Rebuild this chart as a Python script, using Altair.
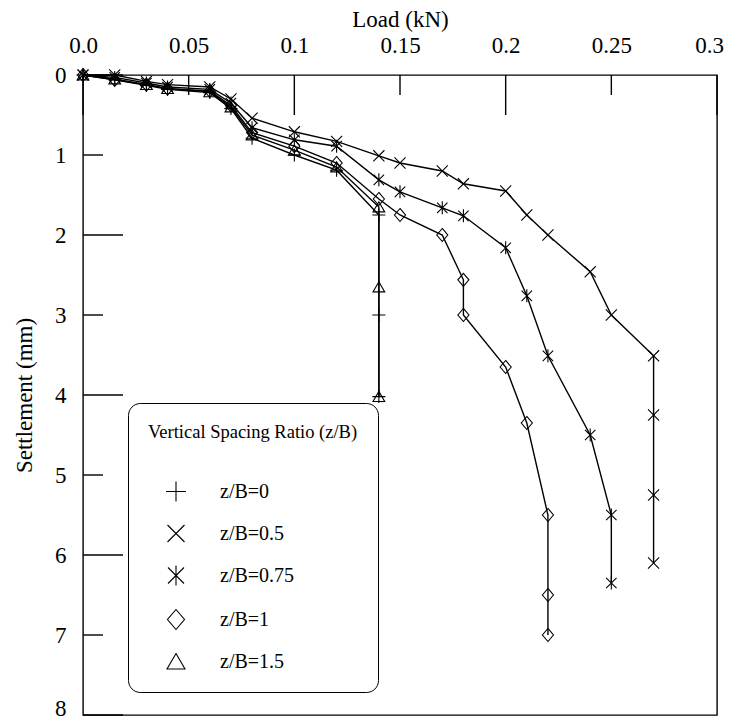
import altair as alt
import pandas as pd

FONT = "Liberation Serif"

series_names = ["z/B=0", "z/B=0.5", "z/B=0.75", "z/B=1", "z/B=1.5"]

load_zb0 = [0, 0.015, 0.03, 0.04, 0.06, 0.07, 0.08, 0.10, 0.12, 0.14, 0.14, 0.14]
sett_zb0 = [0, 0.06, 0.13, 0.18, 0.22, 0.42, 0.79, 1.00, 1.19, 1.75, 3.00, 4.02]

load_zb05 = [0, 0.015, 0.03, 0.04, 0.06, 0.07, 0.08, 0.10, 0.12, 0.14, 0.15, 0.17,
             0.18, 0.20, 0.21, 0.22, 0.24, 0.25, 0.27, 0.27, 0.27, 0.27]
sett_zb05 = [0, 0.00, 0.08, 0.12, 0.15, 0.30, 0.54, 0.71, 0.83, 1.01, 1.10, 1.20,
             1.36, 1.45, 1.75, 2.00, 2.46, 3.00, 3.51, 4.25, 5.25, 6.10]

load_zb075 = [0, 0.015, 0.03, 0.04, 0.06, 0.07, 0.08, 0.10, 0.12, 0.14, 0.15, 0.17,
              0.18, 0.20, 0.21, 0.22, 0.24, 0.25, 0.25]
sett_zb075 = [0, 0.03, 0.10, 0.15, 0.18, 0.35, 0.66, 0.81, 0.89, 1.31, 1.46, 1.66,
              1.76, 2.16, 2.76, 3.51, 4.50, 5.50, 6.35]

load_zb1 = [0, 0.015, 0.03, 0.04, 0.06, 0.07, 0.08, 0.10, 0.12, 0.14, 0.15, 0.17,
            0.18, 0.18, 0.20, 0.21, 0.22, 0.22, 0.22]
sett_zb1 = [0, 0.06, 0.12, 0.17, 0.20, 0.38, 0.72, 0.89, 1.10, 1.55, 1.75, 2.00,
            2.56, 3.00, 3.65, 4.35, 5.50, 6.50, 7.00]

load_zb15 = [0, 0.015, 0.03, 0.04, 0.06, 0.07, 0.08, 0.10, 0.12, 0.14, 0.14, 0.14]
sett_zb15 = [0, 0.05, 0.12, 0.17, 0.21, 0.40, 0.75, 0.94, 1.15, 1.65, 2.65, 4.02]

x_major_ticks = [0, 0.1, 0.2, 0.3]
x_minor_ticks = [0.05, 0.15, 0.25]
y_major_ticks = [0, 2, 4, 6, 8]
y_minor_ticks = [1, 3, 5, 7]
x_tick_labels = [0, 0.05, 0.1, 0.15, 0.2, 0.25, 0.3]
y_tick_labels = [0, 1, 2, 3, 4, 5, 6, 7, 8]

loads = [load_zb0, load_zb05, load_zb075, load_zb1, load_zb15]
setts = [sett_zb0, sett_zb05, sett_zb075, sett_zb1, sett_zb15]

rows = []
for name, xs, ys in zip(series_names, loads, setts):
    for i, (a, b) in enumerate(zip(xs, ys)):
        rows.append({"series": name, "load": a, "settlement": b, "idx": i})
df = pd.DataFrame(rows)

shape_paths = [
    "M-1,0L1,0M0,-1L0,1",
    "M-0.85,-0.85L0.85,0.85M-0.85,0.85L0.85,-0.85",
    "M-0.8,-0.8L0.8,0.8M-0.8,0.8L0.8,-0.8M0,-1L0,1",
    "M0,-1L0.85,0L0,1L-0.85,0Z",
    "M0,-0.8L0.9,0.75L-0.9,0.75Z",
]

xscale = alt.Scale(domain=[0, 0.3], nice=False, zero=False)
yscale = alt.Scale(domain=[0, 8], nice=False, reverse=True)

base = alt.Chart(df)

lines = base.mark_line(color="black", strokeWidth=1.4).encode(
    x=alt.X("load:Q", scale=xscale,
            axis=alt.Axis(orient="top", title="Load (kN)", values=x_tick_labels,
                          labelExpr="datum.value == 0 ? '0.0' : format(datum.value, '~g')",
                          domain=False, ticks=False, grid=False, labelFlush=False,
                          labelOffset={"condition": {"test": "datum.value >= 0.29", "value": -8}, "value": 0},
                          labelPadding=18, titlePadding=3,
                          labelFont=FONT, titleFont=FONT,
                          labelColor="black", titleColor="black", titleFontWeight="normal",
                          labelFontSize=23, titleFontSize=23)),
    y=alt.Y("settlement:Q", scale=yscale,
            axis=alt.Axis(title="Settlement  (mm)", values=y_tick_labels, format="d",
                          domain=False, ticks=False, grid=False, labelFlush=False,
                          labelOffset={"condition": {"test": "datum.value >= 7.9", "value": -7}, "value": 0},
                          labelPadding=17, titlePadding=18,
                          labelFont=FONT, titleFont=FONT,
                          labelColor="black", titleColor="black", titleFontWeight="normal",
                          labelFontSize=23, titleFontSize=23)),
    detail="series:N",
    order="idx:Q",
)

points = base.mark_point(filled=False, color="black", strokeWidth=1.1, size=170, opacity=1).encode(
    x=alt.X("load:Q", scale=xscale),
    y=alt.Y("settlement:Q", scale=yscale),
    shape=alt.Shape("series:N", scale=alt.Scale(domain=series_names, range=shape_paths),
                    legend=alt.Legend(title="Vertical Spacing Ratio (z/B)",
                                      orient="none", legendX=45, legendY=328,
                                      symbolSize=400, symbolStrokeWidth=1.1,
                                      symbolStrokeColor="black", symbolFillColor="transparent",
                                      symbolOffset=17, labelOffset=33,
                                      rowPadding=18, titlePadding=39,
                                      padding=20, cornerRadius=12,
                                      strokeColor="black", titleLimit=400, labelLimit=300,
                                      labelFont=FONT, titleFont=FONT,
                                      labelColor="black", titleColor="black",
                                      titleFontWeight="normal",
                                      labelFontSize=20, titleFontSize=18.5,
                                      titleAnchor="start")),
)

xt_major = alt.Chart(pd.DataFrame({"v": x_major_ticks})).mark_rule(color="black", strokeWidth=1.4).encode(
    x=alt.X("v:Q", scale=xscale), y=alt.value(0), y2=alt.value(40))
xt_minor = alt.Chart(pd.DataFrame({"v": x_minor_ticks})).mark_rule(color="black", strokeWidth=1.4).encode(
    x=alt.X("v:Q", scale=xscale), y=alt.value(0), y2=alt.value(20))
yt_major = alt.Chart(pd.DataFrame({"v": y_major_ticks})).mark_rule(color="black", strokeWidth=1.4).encode(
    y=alt.Y("v:Q", scale=yscale), x=alt.value(0), x2=alt.value(40))
yt_minor = alt.Chart(pd.DataFrame({"v": y_minor_ticks})).mark_rule(color="black", strokeWidth=1.4).encode(
    y=alt.Y("v:Q", scale=yscale), x=alt.value(0), x2=alt.value(20))

chart = alt.layer(xt_major, xt_minor, yt_major, yt_minor, lines, points).properties(
    width=634, height=640,
    autosize=alt.AutoSizeParams(type="none"),
    padding={"left": 75, "top": 67, "right": 7, "bottom": 1},
    background="white",
).configure_view(
    stroke="black", strokeWidth=1.4
).configure_axis(
    labelFont=FONT, titleFont=FONT, labelColor="black", titleColor="black",
    titleFontWeight="normal"
).configure_legend(
    labelFont=FONT, titleFont=FONT, labelColor="black", titleColor="black",
    titleFontWeight="normal"
)

chart.save("out.html", embed_options={"renderer": "svg", "actions": False})
